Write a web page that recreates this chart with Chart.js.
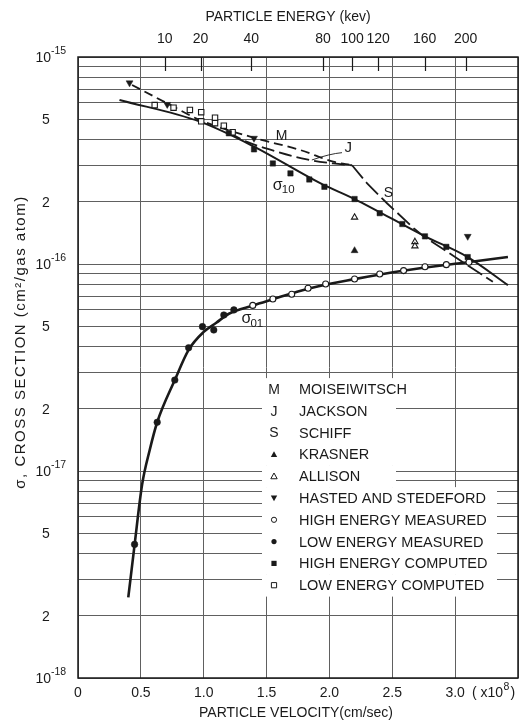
<!DOCTYPE html>
<html>
<head>
<meta charset="utf-8">
<script src="https://cdn.jsdelivr.net/npm/chart.js@4.4.0/dist/chart.umd.min.js"></script>
<style>
  html, body { margin: 0; padding: 0; background: #fff; }
  #wrap { width: 526px; height: 725px; position: relative; }
</style>
</head>
<body>
<div id="wrap"><canvas id="myChart"></canvas></div>
<script>
// velocity in units of 10^8 cm/sec, cross section in cm^2 per gas atom

const lowEnergyComputedV = [0.61, 0.76, 0.89, 0.98, 0.98, 1.09, 1.09, 1.16, 1.23];
const lowEnergyComputedS = [5.86e-16, 5.69e-16, 5.55e-16, 5.41e-16, 4.89e-16, 5.09e-16, 4.79e-16, 4.66e-16, 4.33e-16];

const highEnergyComputedV = [1.20, 1.40, 1.55, 1.69, 1.84, 1.96, 2.20, 2.40, 2.58, 2.76, 2.93, 3.10];
const highEnergyComputedS = [4.28e-16, 3.58e-16, 3.06e-16, 2.74e-16, 2.56e-16, 2.36e-16, 2.06e-16, 1.76e-16, 1.56e-16, 1.36e-16, 1.21e-16, 1.08e-16];

const lowEnergyMeasuredV = [0.45, 0.63, 0.77, 0.88, 0.99, 1.08, 1.16, 1.24];
const lowEnergyMeasuredS = [4.42e-18, 1.72e-17, 2.75e-17, 3.94e-17, 4.98e-17, 4.8e-17, 5.67e-17, 6.0e-17];

const highEnergyMeasuredV = [1.39, 1.55, 1.70, 1.83, 1.97, 2.20, 2.40, 2.59, 2.76, 2.93, 3.11];
const highEnergyMeasuredS = [6.31e-17, 6.78e-17, 7.14e-17, 7.63e-17, 8.0e-17, 8.47e-17, 8.95e-17, 9.29e-17, 9.7e-17, 9.93e-17, 1.02e-16];

const hastedV = [0.41, 0.71, 1.40, 3.10];
const hastedS = [7.5e-16, 5.9e-16, 4.05e-16, 1.36e-16];

const krasnerV = [2.20];
const krasnerS = [1.16e-16];

const allisonV = [2.20, 2.68, 2.68];
const allisonS = [1.68e-16, 1.28e-16, 1.22e-16];

// curves
const sigma10V = [0.33, 0.97, 1.40, 1.93, 2.20, 2.76, 3.10, 3.42];
const sigma10S = [6.2e-16, 4.87e-16, 3.69e-16, 2.45e-16, 2.06e-16, 1.36e-16, 1.08e-16, 7.9e-17];

const sigma01V = [0.40, 0.45, 0.51, 0.57, 0.63, 0.77, 0.88, 1.00, 1.10, 1.20, 1.39, 1.55, 1.83, 2.20, 2.60, 3.10, 3.42];
const sigma01S = [2.45e-18, 4.4e-18, 8.6e-18, 1.26e-17, 1.72e-17, 2.75e-17, 3.85e-17, 4.7e-17, 5.2e-17, 5.75e-17, 6.3e-17, 6.75e-17, 7.6e-17, 8.45e-17, 9.3e-17, 1.02e-16, 1.08e-16];

const moiseiwitschV = [0.43, 0.71, 0.97, 1.40, 1.77, 2.03, 2.18];
const moiseiwitschS = [7.33e-16, 5.97e-16, 4.96e-16, 4.07e-16, 3.55e-16, 3.12e-16, 3.0e-16];

const jacksonV = [1.20, 1.34, 1.58, 1.82, 2.03, 2.18];
const jacksonS = [4.3e-16, 3.9e-16, 3.49e-16, 3.2e-16, 3.06e-16, 3.0e-16];

const schiffV = [2.18, 2.30, 2.46, 2.67, 2.75, 3.30];
const schiffS = [3.0e-16, 2.45e-16, 1.96e-16, 1.49e-16, 1.36e-16, 8.2e-17];

const velocityTicks = [0, 0.5, 1.0, 1.5, 2.0, 2.5, 3.0, 3.5];
const energyTicks = [10, 20, 40, 80, 100, 120, 160, 200];   // keV
const legendSymbols = ['M', 'J', 'S', 'tri', 'triOpen', 'triDown', 'circleOpen', 'circle', 'rect', 'rectOpen'];
const legendLabels = ['MOISEIWITSCH', 'JACKSON', 'SCHIFF', 'KRASNER', 'ALLISON', 'HASTED AND STEDEFORD',
  'HIGH ENERGY MEASURED', 'LOW ENERGY MEASURED', 'HIGH ENERGY COMPUTED', 'LOW ENERGY COMPUTED'];

const FONT = '"Liberation Sans", Arial, sans-serif';
const ink = '#1a1a1a';
const gridInk = '#606060';
const VEL_PER_SQRT_KEV = 0.218;   // helium ion, 10^8 cm/sec per sqrt(keV)

function pts(vs, ss) { return vs.map((v, i) => ({ x: v, y: ss[i] })); }

function lineSet(label, vs, ss, width, dash, smooth) {
  return {
    label, data: pts(vs, ss), showLine: true, pointRadius: 0, borderColor: ink,
    borderWidth: width, borderDash: dash, cubicInterpolationMode: smooth ? 'monotone' : 'default',
    tension: 0, fill: false, order: 2
  };
}

function pointSet(label, vs, ss, style, open, r, rot) {
  return {
    label, data: pts(vs, ss), showLine: false, pointStyle: style, pointRadius: r,
    pointRotation: rot || 0, pointBackgroundColor: open ? '#fff' : ink, pointBorderColor: ink,
    pointBorderWidth: open ? 1.1 : 0.5, order: 1
  };
}

function marker(ctx, kind, x, y, r) {
  ctx.save();
  ctx.lineWidth = 1;
  ctx.strokeStyle = ink;
  ctx.fillStyle = ink;
  ctx.beginPath();
  if (kind.startsWith('circle')) ctx.arc(x, y, r, 0, Math.PI * 2);
  else if (kind.startsWith('rect')) ctx.rect(x - r, y - r, 2 * r, 2 * r);
  else if (kind === 'triDown') { ctx.moveTo(x - r, y - r * 0.8); ctx.lineTo(x + r, y - r * 0.8); ctx.lineTo(x, y + r); ctx.closePath(); }
  else { ctx.moveTo(x - r, y + r * 0.8); ctx.lineTo(x + r, y + r * 0.8); ctx.lineTo(x, y - r); ctx.closePath(); }
  if (kind.endsWith('Open')) { ctx.fillStyle = '#fff'; ctx.fill(); ctx.stroke(); } else ctx.fill();
  ctx.restore();
}

// white legend block sitting on the grid
const legendPlugin = {
  id: 'legendBlock',
  beforeDatasetsDraw(chart) {
    const ctx = chart.ctx;
    const x0 = 262, row0 = 389, step = 21.8;
    ctx.save();
    ctx.fillStyle = '#fff';
    legendLabels.forEach((t, i) => {
      const right = i < 5 ? 396 : 497;
      ctx.fillRect(x0, row0 + (i - 0.5) * step, right - x0, step + 0.5);
    });
    ctx.fillStyle = ink;
    ctx.textBaseline = 'middle';
    legendLabels.forEach((t, i) => {
      const y = row0 + i * step;
      const sym = legendSymbols[i];
      if (sym.length === 1) {
        ctx.font = '14px ' + FONT;
        ctx.textAlign = 'center';
        ctx.fillText(sym, 274, y + 1);
      } else {
        marker(ctx, sym, 274, y, sym.startsWith('tri') ? 3.2 : 2.6);
      }
      ctx.font = '14.5px ' + FONT;
      ctx.textAlign = 'left';
      ctx.fillText(t, 299, y + 1);
    });
    ctx.restore();
  }
};

const framePlugin = {
  id: 'frameAndText',
  afterDraw(chart) {
    const ctx = chart.ctx;
    const a = chart.chartArea;
    const sx = chart.scales.x, sy = chart.scales.y, st = chart.scales.x2;
    ctx.save();
    ctx.strokeStyle = ink;
    ctx.lineWidth = 1.5;
    ctx.strokeRect(a.left, a.top, a.right - a.left, a.bottom - a.top);

    // energy ticks pointing down into the plot
    ctx.lineWidth = 1.2;
    st.ticks.forEach(t => {
      const px = Math.round(st.getPixelForValue(t.value)) + 0.5;
      ctx.beginPath(); ctx.moveTo(px, a.top); ctx.lineTo(px, a.top + 14); ctx.stroke();
    });

    ctx.fillStyle = ink;
    ctx.textBaseline = 'middle';
    // y tick labels
    sy.ticks.forEach(t => {
      const exp = Math.round(Math.log10(t.value));
      const m = Math.round(t.value / Math.pow(10, Math.floor(Math.log10(t.value) + 1e-9)));
      const py = sy.getPixelForValue(t.value);
      if (Math.abs(t.value / Math.pow(10, exp) - 1) < 1e-6) {
        ctx.font = '14px ' + FONT; ctx.textAlign = 'right';
        ctx.fillText('10', 51, py + 1);
        ctx.font = '10.5px ' + FONT; ctx.textAlign = 'left';
        ctx.fillText('-' + String(-exp), 51, py - 6);
      } else if (m === 2 || m === 5) {
        ctx.font = '14px ' + FONT; ctx.textAlign = 'center';
        ctx.fillText(String(m), 46, py + 1);
      }
    });

    // multiplier after 3.0
    ctx.font = '14px ' + FONT; ctx.textAlign = 'left';
    ctx.fillText('( x10', 472, 693);
    const w = ctx.measureText('( x10').width;
    ctx.font = '10.5px ' + FONT;
    ctx.fillText('8', 472 + w + 0.5, 687);
    const w8 = ctx.measureText('8').width;
    ctx.font = '14px ' + FONT;
    ctx.fillText(')', 472 + w + w8 + 1.5, 693);

    // axis titles
    ctx.textAlign = 'center';
    ctx.fillText('PARTICLE ENERGY (kev)', 288, 17);
    ctx.fillText('PARTICLE VELOCITY(cm/sec)', 296, 713);
    ctx.save();
    ctx.translate(21, 342);
    ctx.rotate(-Math.PI / 2);
    ctx.font = '15px ' + FONT;
    ctx.letterSpacing = '1.5px';
    ctx.fillText('\u03c3, CROSS SECTION (cm\u00b2/gas atom)', 0, 0);
    ctx.restore();

    // curve labels
    const P = (v, s) => [sx.getPixelForValue(v), sy.getPixelForValue(s)];
    ctx.font = '14px ' + FONT;
    let p = P(1.62, 4.15e-16); ctx.fillText('M', p[0], p[1]);
    p = P(2.15, 3.62e-16); ctx.font = '15px ' + FONT; ctx.fillText('J', p[0], p[1]);
    p = P(2.47, 2.19e-16); ctx.font = '14px ' + FONT; ctx.fillText('S', p[0], p[1]);
    // leader from J to its curve
    const j0 = P(2.10, 3.45e-16), j1 = P(1.86, 3.18e-16);
    ctx.lineWidth = 0.9;
    ctx.beginPath(); ctx.moveTo(j0[0], j0[1]);
    ctx.quadraticCurveTo(j0[0] - 12, j0[1] + 1, j1[0], j1[1]); ctx.stroke();

    p = P(1.55, 2.40e-16);
    ctx.font = '16px ' + FONT; ctx.textAlign = 'left'; ctx.fillText('\u03c3', p[0], p[1]);
    ctx.font = '11.5px ' + FONT; ctx.fillText('10', p[0] + 9, p[1] + 5);
    p = P(1.30, 5.45e-17);
    ctx.font = '16px ' + FONT; ctx.fillText('\u03c3', p[0], p[1]);
    ctx.font = '11.5px ' + FONT; ctx.fillText('01', p[0] + 9, p[1] + 5);
    ctx.restore();
  }
};

Chart.defaults.font.family = FONT;
Chart.defaults.font.size = 14;
Chart.defaults.color = ink;

const ctx = document.getElementById('myChart');
new Chart(ctx, {
  type: 'scatter',
  data: {
    datasets: [
      lineSet('sigma10', sigma10V, sigma10S, 2, [], true),
      lineSet('sigma01', sigma01V, sigma01S, 2.6, [], true),
      lineSet('Moiseiwitsch', moiseiwitschV, moiseiwitschS, 1.8, [9, 5], true),
      lineSet('Jackson', jacksonV, jacksonS, 1.8, [13, 5], true),
      lineSet('Schiff', schiffV, schiffS, 1.8, [17, 5], false),
      pointSet('Krasner', krasnerV, krasnerS, 'triangle', false, 4),
      pointSet('Allison', allisonV, allisonS, 'triangle', true, 3.6),
      pointSet('Hasted and Stedeford', hastedV, hastedS, 'triangle', false, 4, 180),
      pointSet('High energy measured', highEnergyMeasuredV, highEnergyMeasuredS, 'circle', true, 3),
      pointSet('Low energy measured', lowEnergyMeasuredV, lowEnergyMeasuredS, 'circle', false, 3.3),
      pointSet('High energy computed', highEnergyComputedV, highEnergyComputedS, 'rect', false, 3.8),
      pointSet('Low energy computed', lowEnergyComputedV, lowEnergyComputedS, 'rect', true, 3.8)
    ]
  },
  options: {
    responsive: true,
    maintainAspectRatio: false,
    animation: false,
    layout: { padding: { left: 0, right: 8, top: 0, bottom: 0 } },
    plugins: { legend: { display: false }, tooltip: { enabled: false } },
    scales: {
      x: {
        type: 'linear', position: 'bottom', min: 0, max: 3.5,
        afterBuildTicks: sc => { sc.ticks = velocityTicks.map(v => ({ value: v })); },
        afterFit: sc => { sc.height = 47; },
        ticks: {
          autoSkip: false, maxRotation: 0, padding: 7,
          callback: v => v === 0 ? '0' : (v >= 3.5 ? '' : v.toFixed(1))
        },
        grid: { color: gridInk, lineWidth: 1, drawTicks: false },
        border: { display: false }
      },
      x2: {
        type: 'linear', position: 'top', min: 0, max: 3.5,
        afterBuildTicks: sc => { sc.ticks = energyTicks.map(e => ({ value: VEL_PER_SQRT_KEV * Math.sqrt(e) })); },
        afterFit: sc => { sc.height = 57; },
        ticks: { autoSkip: false, maxRotation: 0, padding: 9, callback: (v, i) => String(energyTicks[i]) },
        grid: { display: false, drawTicks: false },
        border: { display: false }
      },
      y: {
        type: 'logarithmic', position: 'left', min: 1e-18, max: 1e-15,
        afterBuildTicks: sc => {
          const t = [];
          for (let e = -18; e <= -15; e++) {
            for (let k = 1; k <= 9; k++) {
              if (e === -15 && k > 1) break;
              t.push({ value: k * Math.pow(10, e) });
            }
          }
          sc.ticks = t;
        },
        afterFit: sc => { sc.width = 78; },
        ticks: { display: false },
        grid: { color: gridInk, lineWidth: 1, drawTicks: false },
        border: { display: false }
      }
    }
  },
  plugins: [legendPlugin, framePlugin]
});
</script>
</body>
</html>
